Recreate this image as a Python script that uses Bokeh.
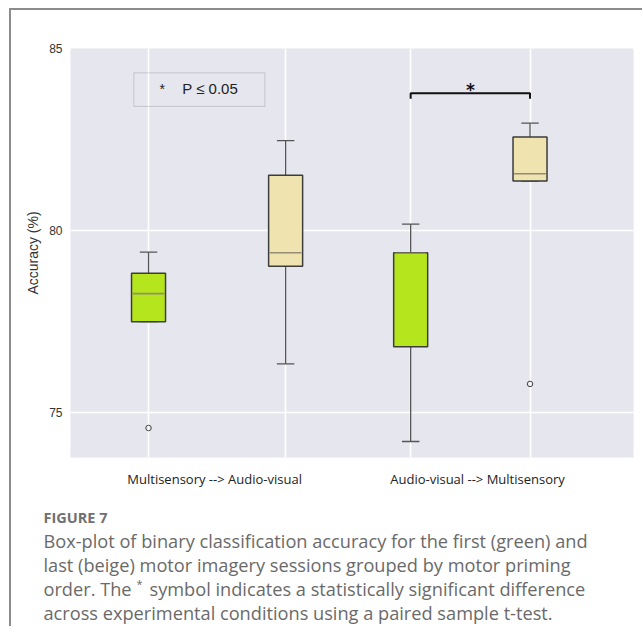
from bokeh.plotting import figure
from bokeh.models import Range1d, FixedTicker, BoxAnnotation
from bokeh.layouts import column
from bokeh.core.properties import value
from bokeh.embed import file_html
from bokeh.resources import INLINE

# ---------------- data ----------------
group_labels = ["Multisensory  --> Audio-visual", "Audio-visual --> Multisensory"]
sessions = ["first (green)", "last (beige)", "first (green)", "last (beige)"]
whisker_low = [77.50, 76.34, 74.21, 81.36]
q1 = [77.50, 79.02, 76.81, 81.36]
median = [78.27, 79.39, 79.38, 81.56]
q3 = [78.83, 81.52, 79.39, 82.57]
whisker_high = [79.41, 82.47, 80.18, 82.95]
outlier_box = [0, 3]
outlier_val = [74.58, 75.79]
y_ticks = [75, 80, 85]

# ---------------- layout constants ----------------
box_x = [0.1386, 0.3821, 0.6042, 0.8162]
label_x = [0.259, 0.723]
box_w = 0.0604
cap_w = 0.031
colors = ["#b5e61d", "#efe4b0", "#b5e61d", "#efe4b0"]
BG = "#e6e6ee"

W = 631
p = figure(width=W, height=490, x_range=Range1d(0, 1), y_range=Range1d(73.77, 85.0),
           output_backend="svg", toolbar_location=None,
           min_border_left=59, min_border_right=9, min_border_top=38, min_border_bottom=43)
p.frame_align = False
p.background_fill_color = BG
p.border_fill_color = "white"
p.outline_line_color = None

# grid
p.ygrid.ticker = FixedTicker(ticks=y_ticks)
p.ygrid.grid_line_color = "white"
p.ygrid.grid_line_width = 1.6
p.xgrid.ticker = FixedTicker(ticks=box_x)
p.xgrid.grid_line_color = "white"
p.xgrid.grid_line_width = 1.6

# axes
p.yaxis.ticker = FixedTicker(ticks=y_ticks)
p.yaxis.axis_line_color = None
p.yaxis.major_tick_line_color = None
p.yaxis.minor_tick_line_color = None
p.yaxis.major_tick_out = 0
p.yaxis.major_tick_in = 0
p.yaxis.minor_tick_out = 0
p.yaxis.major_label_text_font = "Liberation Sans"
p.yaxis.major_label_text_font_size = "12px"
p.yaxis.major_label_text_color = "#333333"
p.yaxis.major_label_standoff = 8
p.yaxis.axis_label = "Accuracy (%)"
p.yaxis.axis_label_text_font = "Liberation Sans"
p.yaxis.axis_label_text_font_style = "normal"
p.yaxis.axis_label_text_font_size = "14px"
p.yaxis.axis_label_text_color = "#333333"
p.yaxis.axis_label_standoff = 5

p.xaxis.ticker = FixedTicker(ticks=label_x)
p.xaxis.major_label_overrides = {label_x[0]: group_labels[0], label_x[1]: group_labels[1]}
p.xaxis.axis_line_color = None
p.xaxis.major_tick_line_color = None
p.xaxis.minor_tick_line_color = None
p.xaxis.major_tick_out = 0
p.xaxis.major_tick_in = 0
p.xaxis.minor_tick_out = 0
p.xaxis.major_label_text_font = "Open Sans"
p.xaxis.major_label_text_font_size = "13px"
p.xaxis.major_label_text_color = "#222222"
p.xaxis.major_label_standoff = 12

# whiskers
p.segment(x0=box_x, y0=q3, x1=box_x, y1=whisker_high, line_color="#555555", line_width=1.3)
p.segment(x0=box_x, y0=q1, x1=box_x, y1=whisker_low, line_color="#555555", line_width=1.3)
cap_l = [x - cap_w / 2 for x in box_x]
cap_r = [x + cap_w / 2 for x in box_x]
p.segment(x0=cap_l, y0=whisker_high, x1=cap_r, y1=whisker_high, line_color="#555555", line_width=1.3)
p.segment(x0=cap_l, y0=whisker_low, x1=cap_r, y1=whisker_low, line_color="#555555", line_width=1.3)

# boxes
p.vbar(x=box_x, width=box_w, bottom=q1, top=q3, fill_color=colors,
       line_color="#3c3c3c", line_width=1.5)
# medians
med_l = [x - box_w / 2 + 0.002 for x in box_x]
med_r = [x + box_w / 2 - 0.002 for x in box_x]
p.segment(x0=med_l, y0=median, x1=med_r, y1=median, line_color="#948c74", line_width=1.6)

# outliers
p.scatter(x=[box_x[i] for i in outlier_box], y=outlier_val, marker="circle", size=5.5,
          fill_color=None, line_color="#444444", line_width=1)

# significance legend box
p.add_layout(BoxAnnotation(left=0.1125, right=0.3453, bottom=83.41, top=84.33,
                           fill_color=None, line_color="#777777", line_width=1))
p.text(x=[0.158], y=[83.90], text=["*"], text_font=value("Liberation Sans"),
       text_font_size="14px", text_color="#222222", text_baseline="middle", text_align="left")
p.text(x=[0.1985], y=[83.90], text=["P \u2264 0.05"], text_font=value("Liberation Sans"),
       text_font_size="15px", text_color="#222222", text_baseline="middle", text_align="left")

# significance bracket between boxes 3 and 4
br_y = 83.77
br_tip = 83.62
p.line(x=[box_x[2], box_x[2], box_x[3], box_x[3]], y=[br_tip, br_y, br_y, br_tip],
       line_color="#111111", line_width=2)
p.text(x=[(box_x[2] + box_x[3]) / 2], y=[br_y + 0.08], text=["*"],
       text_font=value("DejaVu Sans"), text_font_style="bold", text_font_size="17px",
       text_color="#111111", text_baseline="middle", text_align="center")

# ---------------- caption ----------------
CH = 126
cap = figure(width=W, height=CH, x_range=Range1d(0, W), y_range=Range1d(CH, 0),
             output_backend="svg", toolbar_location=None,
             min_border=0, min_border_left=0, min_border_right=0,
             min_border_top=0, min_border_bottom=0)
cap.frame_align = False
cap.axis.visible = False
cap.grid.visible = False
cap.outline_line_color = None
cap.background_fill_color = "white"
cap.border_fill_color = "white"

cap_font = value("Open Sans")
CFS = "18.2px"
CCOL = "#6a6a6a"
cap.text(x=[32], y=[17], text=["FIGURE 7"], text_font=cap_font, text_font_style="bold",
         text_font_size="14.5px", text_color="#707070", text_baseline="middle")
lines = [
    "Box-plot of binary classification accuracy for the first (green) and",
    "last (beige) motor imagery sessions grouped by motor priming",
]
cap.text(x=[32, 32], y=[40, 64], text=lines, text_font=cap_font,
         text_font_size=CFS, text_color=CCOL, text_baseline="middle")
cap.text(x=[32], y=[88], text=["order. The"], text_font=cap_font,
         text_font_size=CFS, text_color=CCOL, text_baseline="middle")
cap.text(x=[125], y=[83], text=["*"], text_font=cap_font,
         text_font_size="11px", text_color=CCOL, text_baseline="middle")
cap.text(x=[138], y=[88], text=["symbol indicates a statistically significant difference"],
         text_font=cap_font, text_font_size=CFS, text_color=CCOL, text_baseline="middle")
cap.text(x=[32], y=[112], text=["across experimental conditions using a paired sample t-test."],
         text_font=cap_font, text_font_size=CFS, text_color=CCOL, text_baseline="middle")

layout = column(p, cap, styles={"border-top": "2px solid #8c8c8c",
                                "border-left": "2px solid #8c8c8c",
                                "margin-left": "9px", "margin-top": "8px"})

open("out.html", "w").write(file_html(layout, INLINE))
